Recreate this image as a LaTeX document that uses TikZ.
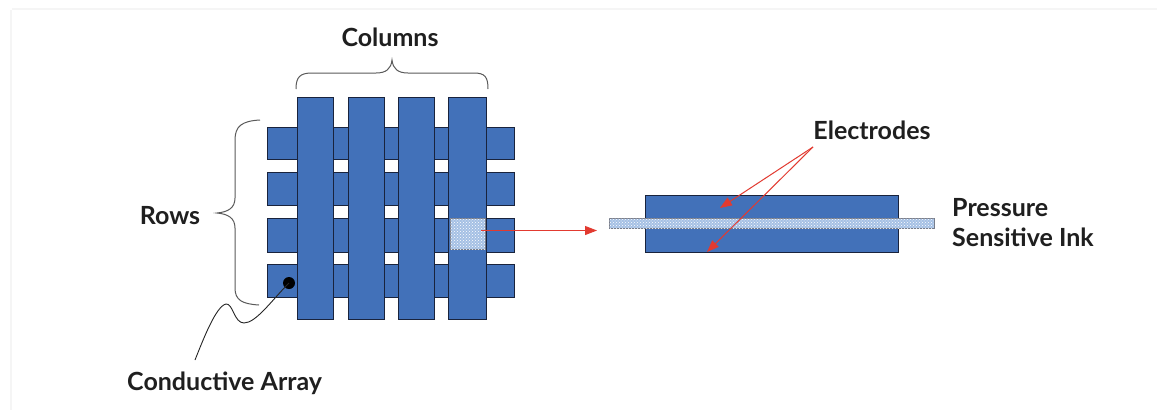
\documentclass[tikz,border=0pt]{standalone}
\usepackage{fontspec}
\setmainfont{Lato}
\usetikzlibrary{arrows.meta,patterns}
\definecolor{barblue}{RGB}{66,113,185}
\definecolor{edgec}{RGB}{25,35,60}
\definecolor{inkblue}{RGB}{165,192,228}
\definecolor{arrowred}{RGB}{226,58,48}
\definecolor{bracegray}{RGB}{90,90,90}
\tikzset{
  bar/.style={draw=edgec, line width=0.9pt, fill=barblue, inner sep=0pt, outer sep=0pt},
  inkcell/.style={draw=edgec!60, line width=0.5pt, fill=inkblue, inner sep=0pt, outer sep=0pt,
    postaction={pattern=crosshatch dots, pattern color=white}},
  lbl/.style={font=\bfseries\fontsize{25}{30}\selectfont, text=black!88, inner sep=0pt},
  redarrow/.style={draw=arrowred, line width=1pt, -{Triangle[length=12pt,width=9pt]}},
  bracepath/.style={draw=bracegray, line width=1pt}
}
\begin{document}
\begin{tikzpicture}[x=1pt,y=-1pt]
\useasboundingbox (0,0) rectangle (1157,410);
\fill[white] (0,0) rectangle (1157,410);
\draw[black!4, line width=2pt] (12,9) -- (1157,9);
\draw[black!4, line width=2pt] (11,10) -- (11,410);
% rows
\foreach \i/\ya/\yb in {1/127/159, 2/172/205, 3/218/252, 4/264/297}{
  \path[bar] (267,\ya) rectangle (514,\yb);
}
% columns
\foreach \i/\xa/\xb in {1/297/333, 2/348/384, 3/398/434, 4/448/486}{
  \path[bar] (\xa,97) rectangle (\xb,319);
}
% hatched cell
\node[inkcell, minimum width=35pt, minimum height=31pt] (cell) at (467.5,233.5) {};
% cross-section
\node[bar, minimum width=253pt, minimum height=23pt] (topel) at (771.5,206.5) {};
\node[bar, minimum width=253pt, minimum height=24pt] (botel) at (771.5,240) {};
\node[inkcell, minimum width=325pt, minimum height=10pt] (ink) at (771.5,223) {};
% arrow from cell to cross-section
\coordinate (cs) at ([xshift=-4pt,yshift=3pt]cell.east);
\draw[redarrow, shorten >=12pt] (cs) -- (ink.west |- cs);
% labels
\node[lbl] (columns) at (390,37) {Columns};
\node[lbl] (rows) at (170,216) {Rows};
\node[lbl, anchor=west] (ca) at (127,383) {Conductive Array};
\node[lbl] (electrodes) at (872,130) {Electrodes};
\node[lbl, anchor=west, align=left] (psi) at (952,223) {Pressure\\Sensitive Ink};
% electrode arrows
\coordinate (ea) at (813,147);
\coordinate (eu) at (720,208);
\coordinate (el) at (707,252);
\draw[redarrow] (ea) -- (eu);
\draw[redarrow] (ea) -- (el);
% columns brace
\draw[bracepath] (296,89) .. controls (296,77) and (300,73) .. (312,73) -- (376,73)
  .. controls (386,73) and (391,69) .. (392,60)
  .. controls (393,69) and (398,73) .. (408,73) -- (474,73)
  .. controls (485,73) and (488,77) .. (488,89);
% rows brace
\draw[bracepath] (260,120) .. controls (242,121) and (235,126) .. (235,140) -- (235,198)
  .. controls (235,208) and (228,212) .. (217,213)
  .. controls (228,214) and (235,218) .. (235,228) -- (235,288)
  .. controls (235,300) and (242,304) .. (259,305);
% conductive array dot and squiggle
\node[circle, fill=black, inner sep=0pt, minimum size=12pt] (dot) at (289,283) {};
\coordinate (sqend) at (195,360);
\draw[black!85, line width=0.9pt] (dot.center) .. controls (272,300) and (256,323) .. (244,323)
  .. controls (234,323) and (233,303) .. (226,304)
  .. controls (216,306) and (203,340) .. (sqend);
\end{tikzpicture}
\end{document}
